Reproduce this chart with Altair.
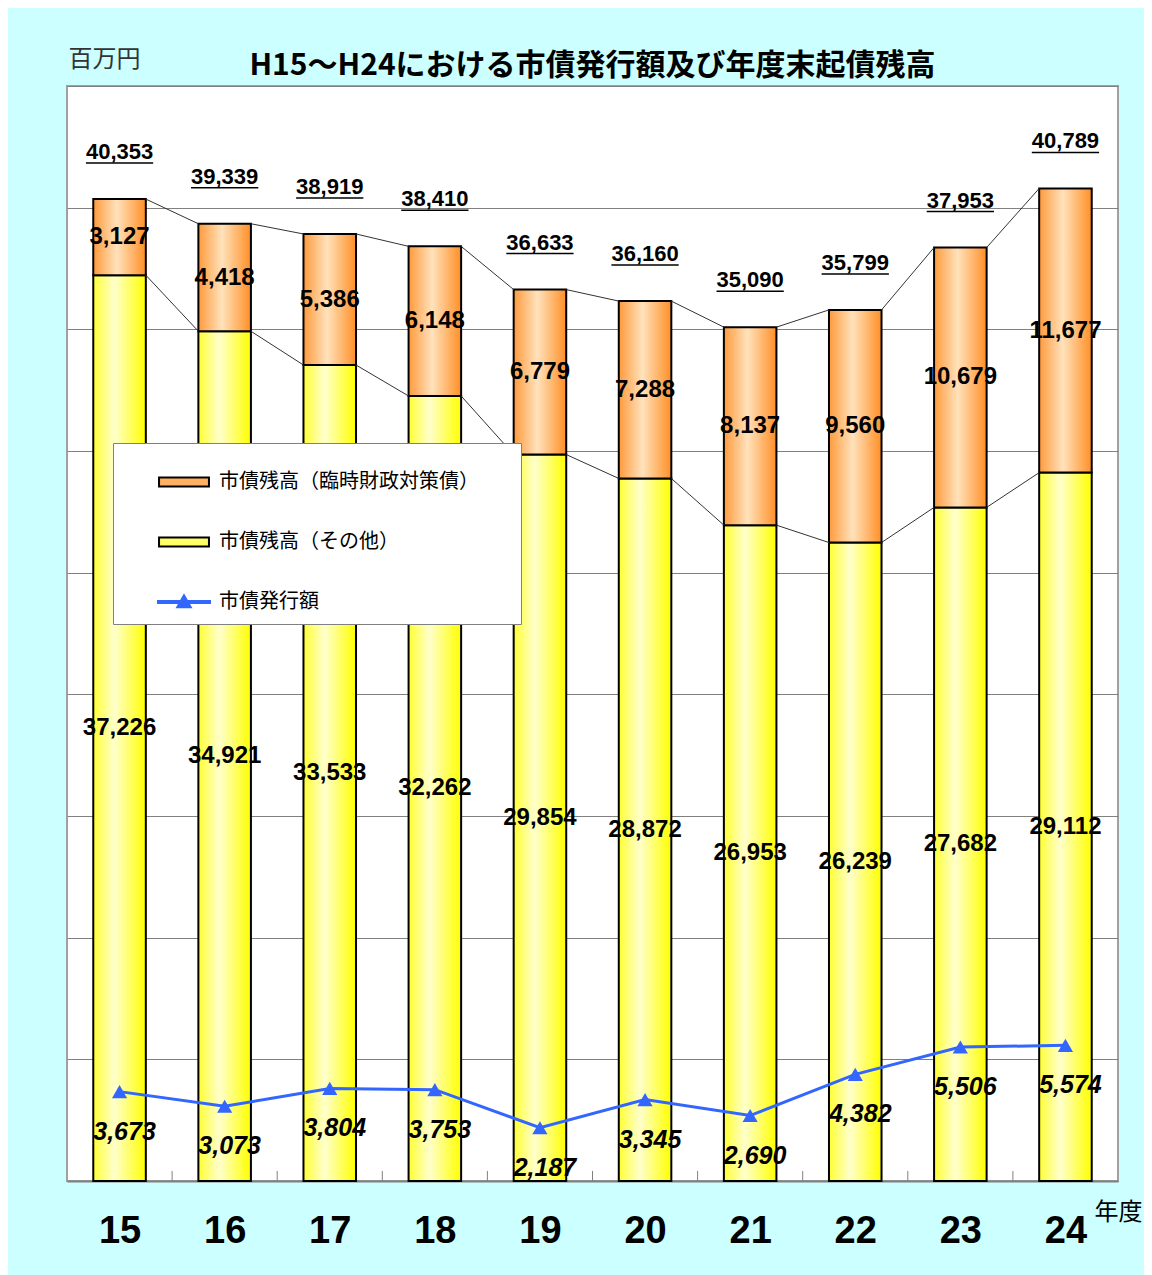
import altair as alt
import pandas as pd

# ---- data ----
years = [15, 16, 17, 18, 19, 20, 21, 22, 23, 24]
rinji = [3127, 4418, 5386, 6148, 6779, 7288, 8137, 9560, 10679, 11677]      # 市債残高（臨時財政対策債）
other = [37226, 34921, 33533, 32262, 29854, 28872, 26953, 26239, 27682, 29112]  # 市債残高（その他）
total_labels = [40353, 39339, 38919, 38410, 36633, 36160, 35090, 35799, 37953, 40789]
issue = [3673, 3073, 3804, 3753, 2187, 3345, 2690, 4382, 5506, 5574]       # 市債発行額
series_names = ["市債残高（臨時財政対策債）", "市債残高（その他）", "市債発行額"]
title_text = "H15～H24における市債発行額及び年度末起債残高"

# ---- tables built from the arrays ----
df = pd.DataFrame({"year": years, "rinji": rinji, "other": other,
                   "total": total_labels, "issue": issue})
df["top"] = df["other"] + df["rinji"]
df["xa"] = df["year"] - 0.25
df["xb"] = df["year"] + 0.25
df["mid_r"] = df["other"] + df["rinji"] / 2
df["mid_o"] = df["other"] / 2
df["ulx1"] = df["year"] - 0.32
df["ulx2"] = df["year"] + 0.32

conn = pd.DataFrame({
    "xa": [y + 0.25 for y in years[:-1]],
    "xb": [y - 0.25 for y in years[1:]],
    "t1": list(df["top"][:-1]), "t2": list(df["top"][1:]),
    "o1": other[:-1], "o2": other[1:],
})
bounds = pd.DataFrame({"b": [y + 0.5 for y in years[:-1]]})
leg_df = pd.DataFrame({"series": series_names})

W, H = 1051, 1095
JP = "Noto Sans CJK JP"
NUM = "Liberation Sans"

xscale = alt.Scale(domain=[14.5, 24.5], nice=False, zero=False)
yscale = alt.Scale(domain=[0, 45000], nice=False, zero=True)
xaxis = alt.Axis(values=years, format="d", ticks=False, tickSize=0, grid=False,
                 labelFontSize=38, labelFont=NUM, labelFontWeight="bold", labelColor="black",
                 labelPadding=50, labelBaseline="middle", domainColor="#808080", domainWidth=2,
                 title="年度", titleFont=JP, titleFontSize=24, titleFontWeight="normal",
                 titleColor="black", titleX=1027, titleY=31, titleAlign="left",
                 titleBaseline="middle")
yaxis = alt.Axis(values=list(range(0, 45001, 5000)), labels=False, ticks=False, domain=False,
                 grid=True, gridColor="#808080", gridWidth=1,
                 title="百万円", titleAngle=0, titleFont=JP, titleFontSize=24,
                 titleFontWeight="normal", titleColor="#333333", titleX=1, titleY=-27,
                 titleAlign="left", titleBaseline="middle")


def X(f):
    return alt.X(f, type="quantitative", scale=xscale, axis=xaxis)


def Y(f):
    return alt.Y(f, type="quantitative", scale=yscale, axis=yaxis)


base = alt.Chart(df)

orange_grad = alt.Gradient(gradient="linear", x1=0, x2=1, y1=0, y2=0, stops=[
    alt.GradientStop(color="#FF9A3C", offset=0),
    alt.GradientStop(color="#FFE2BC", offset=0.45),
    alt.GradientStop(color="#FF8F26", offset=1)])
yellow_grad = alt.Gradient(gradient="linear", x1=0, x2=1, y1=0, y2=0, stops=[
    alt.GradientStop(color="#FFFF33", offset=0),
    alt.GradientStop(color="#FFFFCC", offset=0.4),
    alt.GradientStop(color="#FFFF00", offset=1)])

bar_other = base.mark_rect(fill=yellow_grad, stroke="black", strokeWidth=2).encode(
    x=X("xa"), x2="xb", y=Y("zero:Q"), y2="other").transform_calculate(zero="0")
bar_rinji = base.mark_rect(fill=orange_grad, stroke="black", strokeWidth=2).encode(
    x=X("xa"), x2="xb", y=Y("other"), y2="top")

conn_top = alt.Chart(conn).mark_rule(color="#333333", strokeWidth=1).encode(
    x=X("xa"), x2="xb", y=Y("t1"), y2="t2")
conn_mid = alt.Chart(conn).mark_rule(color="#333333", strokeWidth=1).encode(
    x=X("xa"), x2="xb", y=Y("o1"), y2="o2")

ticks = alt.Chart(bounds).mark_rule(color="#808080", strokeWidth=1).encode(
    x=X("b"), y=alt.value(H), y2=alt.value(H - 10))

line = base.mark_line(color="#3366FF", strokeWidth=3).encode(x=X("year"), y=Y("issue"))
pts = base.mark_point(shape="triangle-up", filled=True, size=230, color="#3366FF",
                      opacity=1).encode(x=X("year"), y=Y("issue"))

lbl_total = base.mark_text(font=NUM, fontSize=22, fontWeight="bold", color="black",
                           baseline="middle", dy=-47).encode(
    x=X("year"), y=Y("top"), text=alt.Text("total:Q", format=",d"))
underline = base.mark_rule(color="black", strokeWidth=1.5, yOffset=-36).encode(
    x=X("ulx1"), x2="ulx2", y=Y("top"))
lbl_r = base.mark_text(font=NUM, fontSize=24, fontWeight="bold", color="black",
                       baseline="middle").encode(
    x=X("year"), y=Y("mid_r"), text=alt.Text("rinji:Q", format=",d"))
lbl_o = base.mark_text(font=NUM, fontSize=24, fontWeight="bold", color="black",
                       baseline="middle").encode(
    x=X("year"), y=Y("mid_o"), text=alt.Text("other:Q", format=",d"))
lbl_i = base.mark_text(font=NUM, fontSize=25, fontWeight="bold", fontStyle="italic",
                       color="black", baseline="middle", dx=5, dy=40).encode(
    x=X("year"), y=Y("issue"), text=alt.Text("issue:Q", format=",d"))

rect_path = "M-0.96,-0.17L0.96,-0.17L0.96,0.17L-0.96,0.17Z"
line_path = "M-1,-0.04L1,-0.04L1,0.04L-1,0.04Z M-0.26,0.2L0,-0.26L0.26,0.2Z"
leg = alt.Legend(title=" ", orient="none", legendX=46, legendY=357,
                 titleOrient="right", titlePadding=30)
legend_layer = alt.Chart(leg_df).mark_point(filled=True, opacity=0).encode(
    x=alt.value(0), y=alt.value(0),
    fill=alt.Fill("series:N", scale=alt.Scale(domain=series_names,
                  range=["#FFB060", "#FFFF66", "#3366FF"]), legend=leg),
    stroke=alt.Stroke("series:N", scale=alt.Scale(domain=series_names,
                      range=["black", "black", "#3366FF"]), legend=leg),
    shape=alt.Shape("series:N", scale=alt.Scale(domain=series_names,
                    range=[rect_path, rect_path, line_path]), legend=leg),
)

chart = alt.layer(
    bar_other, bar_rinji, conn_top, conn_mid, ticks, line, pts,
    underline, lbl_total, lbl_r, lbl_o, lbl_i, legend_layer
).properties(
    width=W, height=H,
    background="#CCFFFF",
    padding={"left": 59, "top": 78, "right": 26, "bottom": 94},
    autosize=alt.AutoSizeParams(type="none"),
    title=alt.TitleParams(title_text, font=JP, fontSize=30, fontWeight="bold",
                          color="black", anchor="middle", baseline="alphabetic",
                          offset=9, dy=67),
).configure_view(
    fill="white", stroke="#A0A0A0", strokeWidth=2
).configure_legend(
    padding=12, rowPadding=23, symbolOffset=32, labelOffset=8,
    fillColor="white", strokeColor="#808080",
    symbolSize=2704, symbolStrokeWidth=2, symbolOpacity=1,
    labelFont=JP, labelFontSize=20, labelColor="black", labelLimit=400,
)

chart.save("out.html", embed_options={"renderer": "svg", "actions": False})
